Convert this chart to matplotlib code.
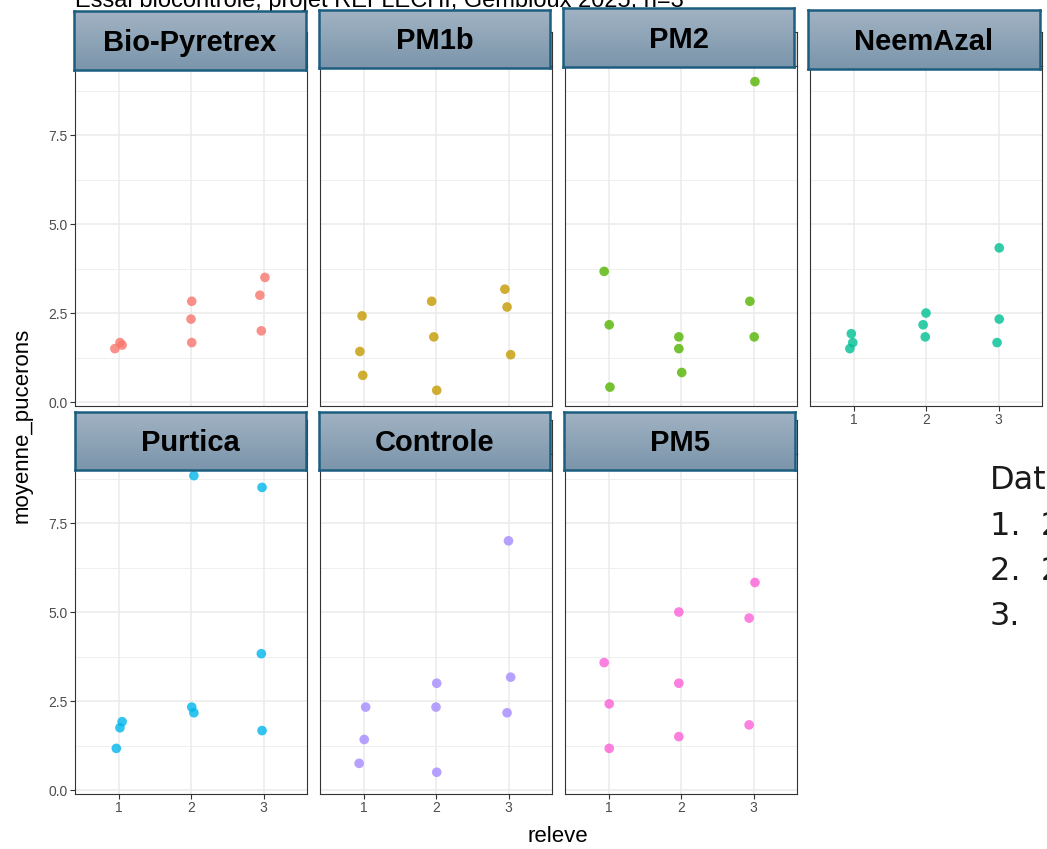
import numpy as np
import matplotlib.pyplot as plt
from matplotlib.colors import LinearSegmentedColormap
from matplotlib.ticker import MultipleLocator

plt.rcParams['font.family'] = ['Liberation Sans', 'DejaVu Sans']

# Données (moyenne des pucerons par relevé)
traitements = ['Bio-Pyretrex', 'PM1b', 'PM2', 'NeemAzal', 'Purtica', 'Controle', 'PM5']
couleurs = ['#F8766D', '#C49A00', '#53B400', '#00C094', '#00B6EB', '#A58AFF', '#FB61D7']
releve = [1, 1, 1, 2, 2, 2, 3, 3, 3]

bio_pyretrex = [1.5, 1.67, 1.6, 2.83, 2.33, 1.67, 3.5, 3.0, 2.0]
pm1b = [2.42, 1.42, 0.75, 2.83, 1.83, 0.33, 3.17, 2.67, 1.33]
pm2 = [3.67, 2.17, 0.42, 1.83, 1.5, 0.83, 2.83, 1.83, 9.0]
neemazal = [1.92, 1.67, 1.5, 2.5, 2.17, 1.83, 4.33, 2.33, 1.67]
purtica = [1.17, 1.75, 1.92, 2.33, 2.17, 8.83, 8.5, 3.83, 1.67]
controle = [0.75, 1.42, 2.33, 3.0, 2.33, 0.5, 7.0, 3.17, 2.17]
pm5 = [3.58, 2.42, 1.17, 5.0, 3.0, 1.5, 5.83, 4.83, 1.83]

# décalages horizontaux (jitter)
jitter = {
    'Bio-Pyretrex': [-0.05, 0.02, 0.05, 0.01, 0.0, 0.01, 0.02, -0.05, -0.03],
    'PM1b': [-0.02, -0.05, -0.01, -0.06, -0.03, 0.01, -0.05, -0.02, 0.03],
    'PM2': [-0.06, 0.01, 0.02, -0.03, -0.03, 0.01, -0.05, 0.01, 0.02],
    'NeemAzal': [-0.03, -0.01, -0.05, 0.0, -0.04, -0.01, 0.01, 0.01, -0.02],
    'Purtica': [-0.03, 0.02, 0.05, 0.01, 0.04, 0.04, -0.02, -0.03, -0.02],
    'Controle': [-0.06, 0.01, 0.03, 0.01, 0.0, 0.01, 0.0, 0.03, -0.02],
    'PM5': [-0.06, 0.01, 0.01, -0.03, -0.03, -0.03, 0.02, -0.06, -0.06],
}
valeurs = [bio_pyretrex, pm1b, pm2, neemazal, purtica, controle, pm5]

W, H = 1047, 849
fig = plt.figure(figsize=(W / 100, H / 100), dpi=100)
fig.patch.set_facecolor('white')


def px(x0, y0, x1, y1):
    # rectangle en pixels (origine en haut à gauche) -> coordonnées figure
    return [x0 / W, 1 - y1 / H, (x1 - x0) / W, (y1 - y0) / H]


fig.text(75 / W, 1 - 7 / H, 'Essai biocontrôle, projet REFLECHI, Gembloux 2025, n=3',
         fontsize=17, va='baseline', ha='left', zorder=1)

col_x = [75, 320, 565, 810]
row_top = [66.3, 454.3]
pw, ph = 232, 339.3
ylim = (-0.1, 9.43)

for i, (nom, val) in enumerate(zip(traitements, valeurs)):
    r, c = divmod(i, 4)
    x0, y0 = col_x[c], row_top[r]
    # bandeau ggplot sous l'étiquette
    sax = fig.add_axes(px(x0, y0 - 34, x0 + pw, y0))
    sax.set_facecolor('#D9D9D9')
    sax.set_xticks([]); sax.set_yticks([])
    for s in sax.spines.values():
        s.set_color('#333333'); s.set_linewidth(0.8)

    ax = fig.add_axes(px(x0, y0, x0 + pw, y0 + ph))
    x = np.array(releve) + np.array(jitter[nom])
    ax.scatter(x, val, s=48, color=couleurs[i], alpha=0.8, edgecolors='none', zorder=3)
    ax.set_xlim(0.4, 3.6)
    ax.set_ylim(*ylim)
    ax.xaxis.set_major_locator(MultipleLocator(1))
    ax.yaxis.set_major_locator(MultipleLocator(2.5))
    ax.yaxis.set_minor_locator(MultipleLocator(1.25))
    ax.grid(axis='x', which='major', color='#EBEBEB', linewidth=1.1)
    ax.grid(axis='y', which='major', color='#EBEBEB', linewidth=1.1)
    ax.grid(axis='y', which='minor', color='#EBEBEB', linewidth=0.55)
    ax.set_axisbelow(True)
    ax.tick_params(which='minor', length=0)
    ax.tick_params(which='major', length=3.5, width=0.8, color='#333333',
                   labelcolor='#4D4D4D', labelsize=10, pad=2)
    ax.yaxis.set_major_formatter(plt.FuncFormatter(lambda v, p: f'{v:.1f}'))
    for s in ax.spines.values():
        s.set_color('#333333'); s.set_linewidth(0.8)
    if c != 0:
        ax.tick_params(axis='y', left=False, labelleft=False)
    if not (r == 1 or nom == 'NeemAzal'):
        ax.tick_params(axis='x', bottom=False, labelbottom=False)

# étiquettes en dégradé posées par-dessus les bandeaux
boites = [(74, 11, 306, 70), (319, 10, 550, 68), (563, 8, 794, 67), (808, 10, 1040, 69),
          (75, 412, 306, 470), (319, 412, 550, 470), (564, 412, 795, 470)]
degrade = LinearSegmentedColormap.from_list('deg', ['#7B95AB', '#A1B3C3'])
for nom, b in zip(traitements, boites):
    bax = fig.add_axes(px(*b))
    bax.set_zorder(10)
    bax.imshow(np.linspace(0, 1, 100).reshape(-1, 1), aspect='auto', cmap=degrade,
               extent=[0, 1, 0, 1], origin='lower')
    bax.set_xlim(0, 1); bax.set_ylim(0, 1)
    bax.set_xticks([]); bax.set_yticks([])
    for s in bax.spines.values():
        s.set_color('#1D5E80'); s.set_linewidth(1.8)
    bax.text(0.5, 0.46, nom, ha='center', va='center', fontsize=21, fontweight='bold',
             color='black')

fig.text(22 / W, 1 - 425 / H, 'moyenne_pucerons', rotation=90, ha='center', va='center',
         fontsize=16)
fig.text(558 / W, 1 - 837 / H, 'releve', ha='center', va='center', fontsize=16)

# texte de la diapositive, coupé par le bord
lignes = ['Dates', '1.  2', '2.  2', '3.']
bases = [489, 535, 580, 625]
for ligne, yb in zip(lignes, bases):
    fig.text(990 / W, 1 - yb / H, ligne, fontsize=23, va='baseline', ha='left',
             family=['DejaVu Sans'], color='#1A1A1A')

fig.savefig('out.png', dpi=100)
